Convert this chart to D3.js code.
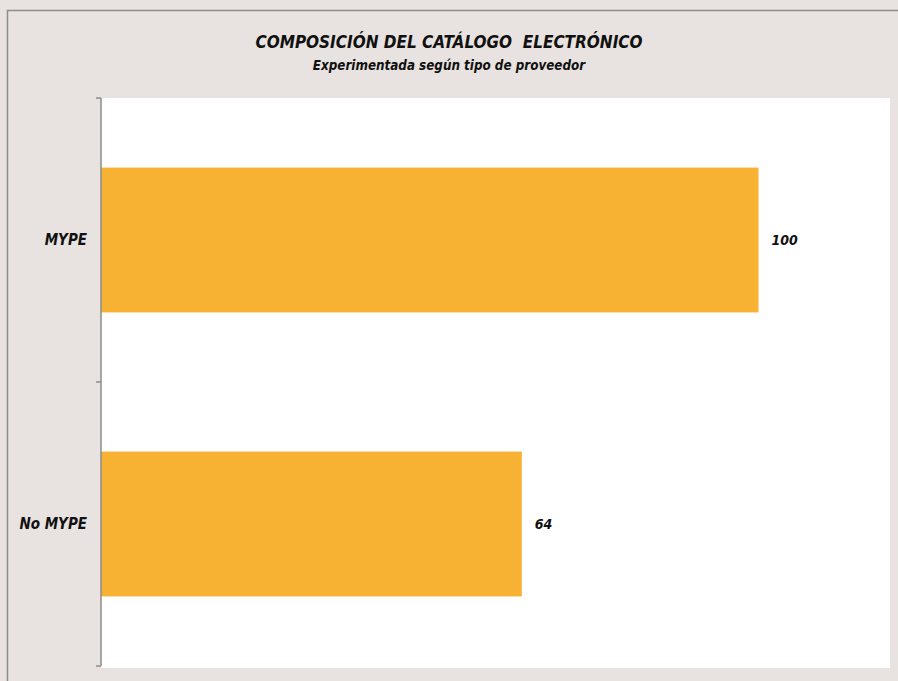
<!DOCTYPE html>
<html>
<head>
<meta charset="utf-8">
<script src="https://cdn.jsdelivr.net/npm/d3@7"></script>
<style>
  body { margin: 0; background: #e8e3e0; }
  text { font-family: "DejaVu Sans Condensed", "DejaVu Sans", sans-serif; font-style: italic; font-weight: bold; fill: #111; white-space: pre; }
</style>
</head>
<body>
<svg id="canvas"></svg>
<script>
var w = 898;
var h = 681;
var title = 'COMPOSICIÓN DEL CATÁLOGO  ELECTRÓNICO'
var subtitle = 'Experimentada según tipo de proveedor'
var categories = ['MYPE', 'No MYPE']
var values = [100, 64]
var xMax = 120

var margin = {left: 101, top: 98, right: 8, bottom: 15}

var svg = d3.select('#canvas')
  .attr('width', w)
  .attr('height', h)
  .attr('viewBox', [0, 0, w, h])

// outer frame
svg.append('rect')
  .attr('x', 7.5).attr('y', 10.5)
  .attr('width', w).attr('height', h)
  .style('fill', '#e8e3e0')
  .style('stroke', '#8c8c8c')
  .style('stroke-width', 1.5)

var x = d3.scaleLinear()
  .domain([0, xMax])
  .range([margin.left, w - margin.right])

var y = d3.scaleBand()
  .domain(categories)
  .range([margin.top, h - margin.bottom])
  .paddingInner(0.49)
  .paddingOuter(0.245)

// plot area
svg.append('rect')
  .attr('x', x(0)).attr('y', margin.top)
  .attr('width', x(xMax) - x(0))
  .attr('height', h - margin.bottom - margin.top + 2)
  .style('fill', '#ffffff')

svg.selectAll('.bar')
  .data(categories)
  .enter()
  .append('rect')
  .attr('class', 'bar')
  .attr('x', x(0))
  .attr('y', d => y(d))
  .attr('width', (d, i) => x(values[i]) - x(0))
  .attr('height', y.bandwidth())
  .style('fill', '#f7b234')

// category axis, ticks sit on the band edges
var r = y.range()
var step = y.step()
var edges = d3.range(categories.length + 1).map(i => r[0] + i * step)
var ax = svg.append('g').style('stroke', '#8c8c8c').style('stroke-width', 1.5)
ax.append('line')
  .attr('x1', x(0)).attr('x2', x(0))
  .attr('y1', r[0]).attr('y2', edges[edges.length - 1])
ax.selectAll('.tick')
  .data(edges)
  .enter()
  .append('line')
  .attr('x1', x(0) - 5).attr('x2', x(0))
  .attr('y1', d => d).attr('y2', d => d)

svg.selectAll('.cat')
  .data(categories)
  .enter()
  .append('text')
  .attr('x', x(0) - 14)
  .attr('y', d => y(d) + y.bandwidth() / 2)
  .attr('dy', '0.35em')
  .attr('text-anchor', 'end')
  .style('font-size', '15px')
  .text(d => d)

svg.selectAll('.val')
  .data(values)
  .enter()
  .append('text')
  .attr('x', d => x(d) + 13)
  .attr('y', (d, i) => y(categories[i]) + y.bandwidth() / 2)
  .attr('dy', '0.35em')
  .style('font-size', '14px')
  .text(d => d)

svg.append('text')
  .attr('x', 449).attr('y', 48)
  .attr('text-anchor', 'middle')
  .style('font-size', '17px')
  .text(title)

svg.append('text')
  .attr('x', 449).attr('y', 70)
  .attr('text-anchor', 'middle')
  .style('font-size', '13.3px')
  .text(subtitle)
</script>
</body>
</html>
